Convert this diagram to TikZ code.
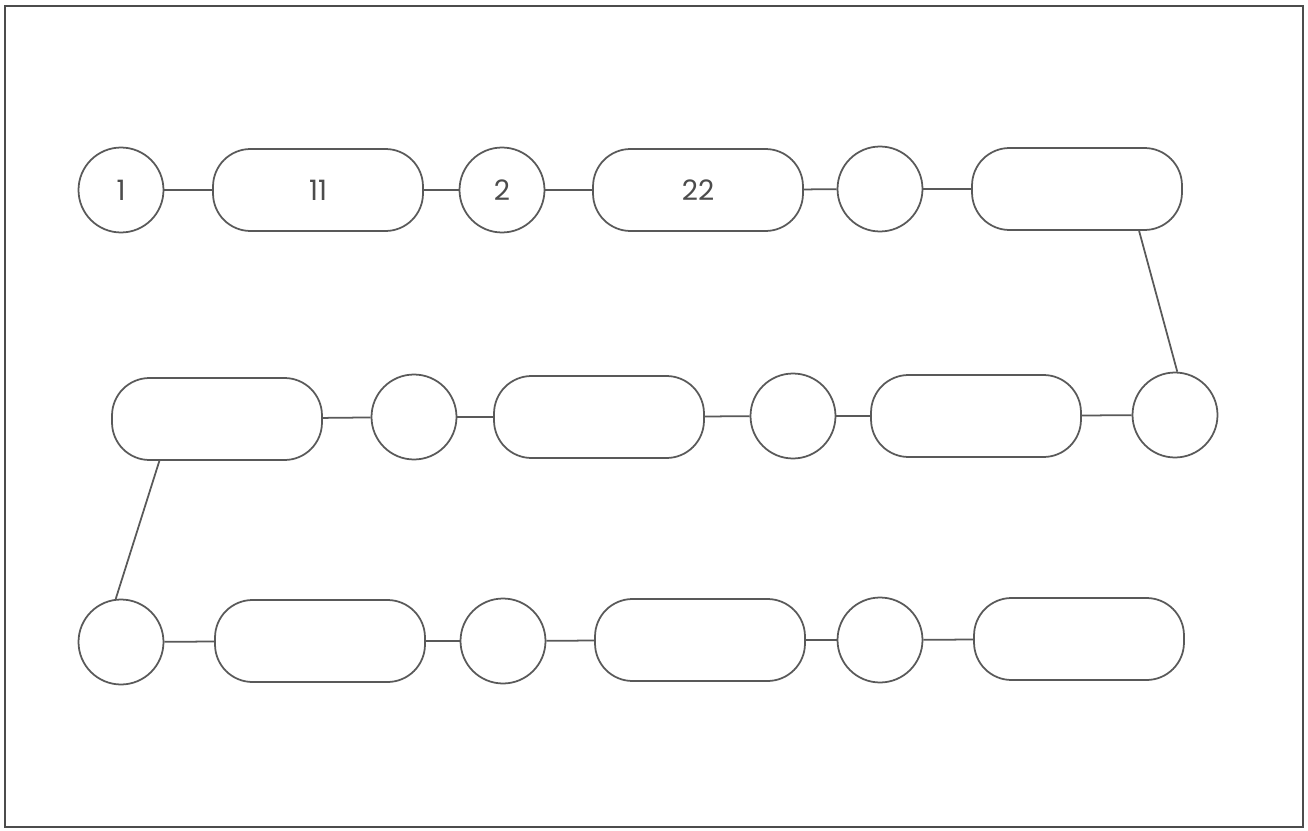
\documentclass[tikz,border=0pt]{standalone}
\usepackage{fontspec}
\setmainfont{Poppins}
\begin{document}
\begin{tikzpicture}[x=0.02cm,y=-0.02cm,line width=1pt,black!65,
    rnd/.style={circle,draw,minimum size=1.7cm,inner sep=0pt,text=black!70,font=\fontsize{16}{18}\selectfont},
    pill/.style={rectangle,rounded corners=0.75cm,draw,minimum width=4.2cm,minimum height=1.64cm,inner sep=0pt,text=black!70,font=\fontsize{16}{18}\selectfont}]
    \useasboundingbox (0,0) rectangle (1308,831);
    \draw[black!70] (5,6) rectangle (1303,827);
                                \node[rnd] (c1) at (121,190){1};
                                \node[pill] (b1) at (318,190){11};
                                \node[rnd] (c2) at (502,190){2};
                                \node[pill] (b2) at (698,190){22};
                                \node[rnd] (c3) at (880,189){};
                                \node[pill] (b3) at (1077,189){};
                                \node[pill] (d1) at (217,419){};
                                \node[rnd] (c4) at (414,417){};
                                \node[pill] (d2) at (599,417){};
                                \node[rnd] (c5) at (793,416){};
                                \node[pill] (d3) at (976,416){};
                                \node[rnd] (c6) at (1175,415){};
                                \node[rnd] (e1) at (121,642){};
                                \node[pill] (f1) at (320,641){};
                                \node[rnd] (e2) at (503,641){};
                                \node[pill] (f2) at (700,640){};
                                \node[rnd] (e3) at (880,640){};
                                \node[pill] (f3) at (1079,639){};
                                \draw (c1) -- (b1);
                                \draw (b1) -- (c2);
                                \draw (c2) -- (b2);
                                \draw (b2) -- (c3);
                                \draw (c3) -- (b3);
                                \draw (b3.-34.6) -- (c6.87);
                                \draw (d1) -- (c4);
                                \draw (c4) -- (d2);
                                \draw (d2) -- (c5);
                                \draw (c5) -- (d3);
                                \draw (d3) -- (c6);
                                \draw (d1.-144) -- (e1.97);
                                \draw (e1) -- (f1);
                                \draw (f1) -- (e2);
                                \draw (e2) -- (f2);
                                \draw (f2) -- (e3);
                                \draw (e3) -- (f3);
\end{tikzpicture}
\end{document}
